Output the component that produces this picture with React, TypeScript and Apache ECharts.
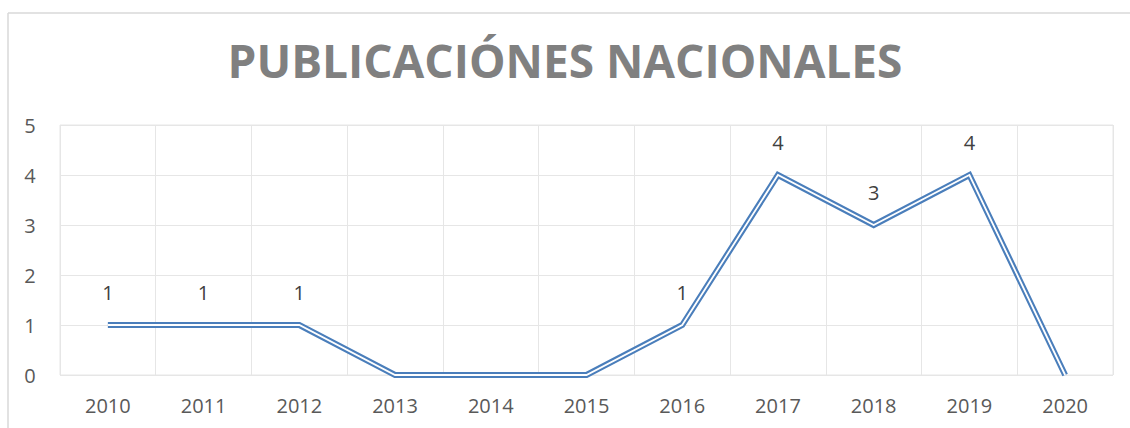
import React, { useEffect, useRef } from "react";
import * as echarts from "echarts";

const years = ["2010", "2011", "2012", "2013", "2014", "2015", "2016", "2017", "2018", "2019", "2020"];
const publicaciones = [1, 1, 1, 0, 0, 0, 1, 4, 3, 4, 0];
const yTicks = [0, 1, 2, 3, 4, 5];
const titleText = "PUBLICACIÓNES NACIONALES";

export default function App() {
  const ref = useRef<HTMLDivElement>(null);
  useEffect(() => {
    const chart = echarts.init(ref.current!, null, { renderer: "svg" });
    const font = "'Open Sans', 'Noto Sans', sans-serif";
    chart.setOption({
      animation: false,
      backgroundColor: "#ffffff",
      title: {
        text: titleText,
        left: "center",
        top: 32,
        textStyle: { fontFamily: font, fontSize: 46, fontWeight: "bold", color: "#808080" },
      },
      graphic: [
        { type: "line", shape: { x1: 8, y1: 13, x2: 1130, y2: 13 }, style: { stroke: "#d9d9d9", lineWidth: 1.5 } },
        { type: "line", shape: { x1: 8, y1: 13, x2: 8, y2: 428 }, style: { stroke: "#d9d9d9", lineWidth: 1.5 } },
      ],
      grid: { left: 60, right: 17, top: 125, bottom: 53, show: true, borderColor: "#e6e6e6", borderWidth: 1 },
      xAxis: {
        type: "category",
        data: years,
        boundaryGap: true,
        axisLine: { show: false },
        axisTick: { show: false },
        splitLine: { show: true, lineStyle: { color: "#e6e6e6", width: 1 } },
        axisLabel: { color: "#595959", fontSize: 20, fontFamily: font, margin: 20, interval: 0 },
      },
      yAxis: {
        type: "value",
        min: yTicks[0],
        max: yTicks[yTicks.length - 1],
        interval: 1,
        axisLine: { show: false },
        axisTick: { show: false },
        splitLine: { show: true, lineStyle: { color: "#e6e6e6", width: 1 } },
        axisLabel: { color: "#595959", fontSize: 20, fontFamily: font, margin: 30, align: "center" },
      },
      series: [
        {
          type: "line",
          data: publicaciones,
          symbol: "none",
          lineStyle: { color: "#4a7ebb", width: 6, join: "miter" },
          z: 2,
        },
        {
          type: "line",
          data: publicaciones,
          symbol: "circle",
          symbolSize: 1,
          showAllSymbol: true,
          itemStyle: { color: "rgba(255,255,255,0)" },
          lineStyle: { color: "#ffffff", width: 1.8, join: "miter" },
          z: 3,
          label: {
            show: true,
            position: "top",
            distance: 22,
            color: "#404040",
            fontSize: 20,
            fontFamily: font,
            formatter: (p: any) => (p.value === 0 ? "" : String(p.value)),
          },
        },
      ],
    });
    return () => chart.dispose();
  }, []);
  return <div ref={ref} style={{ width: 1130, height: 428, position: "absolute", left: 0, top: 0 }} />;
}
